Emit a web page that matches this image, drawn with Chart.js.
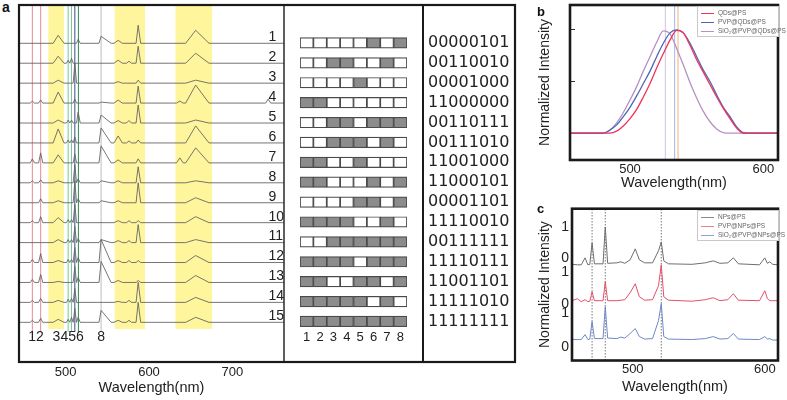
<!DOCTYPE html>
<html>
<head>
<meta charset="utf-8">
<script src="https://cdn.jsdelivr.net/npm/chart.js@4/dist/chart.umd.min.js"></script>
<style>
  body { margin: 0; background: #fff; width: 787px; height: 400px; position: relative; overflow: hidden; }
  canvas { position: absolute; }
  .tag { position: absolute; font: bold 14px Arial, "Liberation Sans", sans-serif; color: #111; line-height: 14px; }
  .legend { position: absolute; background: #fff; border: 1px solid #c8c8c8; font: 6.5px Arial, "Liberation Sans", sans-serif; color: #666; padding: 1px 3px; line-height: 9px; white-space: nowrap; }
  .legend .sw { display: inline-block; width: 13px; border-top: 1px solid; vertical-align: middle; margin-right: 4px; }
</style>
</head>
<body>
<div class="tag" style="left:2px;top:0px">a</div>
<canvas id="cA" width="520" height="400" style="left:0;top:0"></canvas>
<canvas id="cB" width="230" height="400" style="left:290px;top:0"></canvas>
<canvas id="cC" width="257" height="192" style="left:530px;top:0"></canvas>
<canvas id="cD" width="257" height="205" style="left:530px;top:195px"></canvas>
<div class="tag" style="left:537px;top:5px;font-size:13px">b</div>
<div class="tag" style="left:537px;top:202px;font-size:13px">c</div>
<div id="legB" class="legend" style="left:697px;top:6px;width:74px"></div>
<div id="legC" class="legend" style="left:697px;top:210px;width:74px"></div>
<script>
const family = 'Arial, "Liberation Sans", sans-serif';

// ---- panel a : 15 coded spectra ----
const traceNames = ['1','2','3','4','5','6','7','8','9','10','11','12','13','14','15'];
const codes = ['00000101','00110010','00001000','11000000','00110111','00111010','11001000','11000101',
               '00001101','11110010','00111111','11110111','11001101','11111010','11111111'];
const bitNames = ['1','2','3','4','5','6','7','8'];
const tickA = [500, 600, 700];

// peak positions (nm) and half widths of each peak
const peakNm    = [460, 470, 491, 503, 507, 511, 515, 542.5, 563, 576, 587, 637, 656, 743];
const peakLeft  = [2.5, 2.5, 6,   2,   2,   2,   2,   2.5,   5,   3,   2.5, 4,   12,  3];
const peakRight = [2.5, 2.5, 7,   2,   2,   2,   2.5, 12,    5,   3,   3,   4,   16,  3];
// peak heights per spectrum
const heightsA = [
  [0, 0, 8,  0, 0, 0,  4, 7,  3,   0,   18, 0, 13, 0],
  [0, 0, 7,  3, 5, 0,  0, 0,  3,   2,   17, 0, 10, 0],
  [0, 0, 3,  0, 0, 20, 0, 0,  1.5, 0,   3,  0, 3,  0],
  [2, 3, 11, 0, 0, 4,  0, 1,  3,   0,   17, 2, 18, 4],
  [0, 0, 3,  3, 3, 0,  11, 8, 2.5, 2.5, 18, 0, 3,  0],
  [0, 0, 14, 3, 3, 6,  0, 15, 7,   2,   3,  0, 17, 0],
  [4, 10, 8, 0, 0, 9,  0, 17, 3,   0,   4,  5, 15, 0],
  [2, 3, 2,  0, 0, 18, 4, 2,  2,   0,   16, 0, 2,  0],
  [0, 4, 2,  0, 0, 22, 4, 2,  2,   0,   20, 0, 5,  0],
  [2, 6, 5,  3, 3, 18, 0, 0,  2,   2,   2,  0, 6,  0],
  [0, 0, 3,  3, 3, 16, 4, 3,  2,   2,   18, 0, 3,  0],
  [3, 9, 2,  3, 3, 15, 5, 23, 2,   2,   2,  0, 7,  0],
  [3, 8, 1,  0, 0, 16, 5, 21, 2,   0,   2,  0, 7,  0],
  [2, 4, 2,  3, 4, 14, 0, 0,  1,   2,   20, 0, 5,  0],
  [2, 4, 3,  3, 5, 14, 5, 12, 2,   2,   20, 0, 5,  0]
];
const bandsA = [[479, 498], [558.5, 595.5], [631.5, 676]];
const markNm = [460, 470, 503, 507, 511, 515.3, 542.5];
const markColors = ['#e58a93', '#e58a93', '#7cc79a', '#7cc79a', '#3b4a8c', '#2f8a50', '#c4bbb4'];
const markLabels = ['12', '3456', '8'];
const markLabelNm = [464.5, 503, 542.5];

// ---- panel b : emission of QDs ----
const bNm    = [455, 480, 485, 490, 495, 500, 505, 510, 515, 520, 525, 530, 535, 540, 545, 550, 555, 560, 565, 570, 575, 580, 585, 590, 611];
const bQD    = [0, 0, 0, 0.02, 0.07, 0.14, 0.23, 0.35, 0.48, 0.63, 0.77, 0.9, 0.995, 0.97, 0.85, 0.71, 0.59, 0.47, 0.35, 0.24, 0.14, 0.05, 0, 0, 0];
const bPVP   = [0, 0, 0.03, 0.08, 0.16, 0.25, 0.36, 0.48, 0.6, 0.74, 0.87, 0.97, 1.0, 0.97, 0.87, 0.74, 0.61, 0.5, 0.37, 0.25, 0.16, 0.06, 0.005, 0, 0];
const bSiO2  = [0, 0, 0.03, 0.1, 0.2, 0.32, 0.45, 0.6, 0.74, 0.88, 0.99, 0.96, 0.82, 0.66, 0.49, 0.34, 0.21, 0.11, 0.04, 0.005, 0, 0, 0, 0, 0];
const bNames = ['QDs@PS', 'PVP@QDs@PS', 'SiO\u2082@PVP@QDs@PS'];
const bColors = ['#f0325c', '#4a68b4', '#b690c4'];
const bPeakNm = [536, 533.5, 526.5];
const bPeakColors = ['#f4b07a', '#a4b6e6', '#d2c2e0'];
const bTicks = [500, 600];
const bYTicks = [0, 0.5, 1];

// ---- panel c : nanoparticle spectra (offset) ----
const cNm   = [454, 458, 461, 463.9, 466, 467.5, 469.2, 471, 477.5, 479.2, 481, 488, 491, 494, 498, 501.9, 505, 509,
               515, 519.5, 521.6, 523.5, 527, 545, 555, 561, 566, 572, 576.2, 580, 596, 600, 602, 603.8, 606, 610];
const cNP   = [96.5, 96, 96, 103, 96, 96.5, 118, 97, 97, 134, 97.5, 98, 99, 97.5, 101, 112, 101, 98,
               98, 110, 119, 100, 97, 96.5, 98, 100, 97.5, 98, 103, 97, 96, 103, 97.5, 99, 96.5, 96];
const cPVP  = [60, 62, 59, 61, 59, 59.5, 69, 60, 60, 79, 60, 60, 60.5, 61, 68, 77, 64, 60.5,
               61, 75, 96, 64, 60.5, 59.5, 61, 63, 60, 61, 67, 60.5, 60, 70, 62, 60, 60, 60];
const cSiO2 = [21, 21, 21, 26, 21, 21.5, 39, 22, 22, 54, 22.5, 22, 23.5, 22.5, 27, 32, 24, 21.5,
               22, 40, 57, 24, 21.5, 21, 22, 24, 21.5, 22, 27, 21.5, 21, 24, 21.5, 22, 20.5, 20.5];
const cNames = ['NPs@PS', 'PVP@NPs@PS', 'SiO\u2082@PVP@NPs@PS'];
const cColors = ['#6e6e6e', '#e4506a', '#7088c8'];
const cLegendColors = ['#8a8a8a', '#e8808e', '#90a0d0'];
const cMarkNm = [469.2, 479.2, 521.6];
const cYTicks = [134, 103, 89, 57, 48, 13];
const cYLabels = ['1', '0', '1', '0', '1', '0'];

const baseA = traceNames.map((n, i) => 318.7 - 19.93 * i);

function tracePoints(h, base) {
  const pts = [{x: 444, y: base}];
  peakNm.forEach((c, j) => {
    if (!h[j]) return;
    pts.push({x: c - peakLeft[j], y: base}, {x: c, y: base + h[j]}, {x: c + peakRight[j], y: base});
  });
  pts.push({x: 762, y: base});
  return pts;
}

const noUi = { legend: { display: false }, tooltip: { enabled: false } };

const frameA = {
  id: 'frameA',
  afterDraw(chart) {
    const { ctx, chartArea: a, scales: { x, y } } = chart;
    ctx.save();
    ctx.strokeStyle = '#1a1a1a';
    ctx.lineWidth = 2.2;
    ctx.strokeRect(a.left, a.top, 496, a.bottom - a.top);
    ctx.lineWidth = 1.4;
    ctx.beginPath(); ctx.moveTo(a.right, a.top); ctx.lineTo(a.right, a.bottom); ctx.stroke();
    ctx.lineWidth = 2;
    ctx.beginPath(); ctx.moveTo(a.left + 404, a.top); ctx.lineTo(a.left + 404, a.bottom); ctx.stroke();
    ctx.fillStyle = '#222';
    ctx.font = '14px ' + family;
    ctx.textAlign = 'center';
    ctx.textBaseline = 'middle';
    markLabels.forEach((t, i) => ctx.fillText(t, x.getPixelForValue(markLabelNm[i]), y.getPixelForValue(25)));
    ctx.restore();
  }
};

const boxFrame = {
  id: 'boxFrame',
  afterDraw(chart) {
    const { ctx, chartArea: a } = chart;
    ctx.save();
    ctx.strokeStyle = '#1a1a1a';
    ctx.lineWidth = 2.6;
    ctx.strokeRect(a.left, a.top, a.right - a.left, a.bottom - a.top);
    ctx.restore();
  }
};

// panel a spectra
new Chart(document.getElementById('cA'), {
  type: 'line',
  data: {
    datasets: [
      ...heightsA.map((h, i) => ({ data: tracePoints(h, baseA[i]), borderColor: '#666', borderWidth: 0.9 })),
      ...markNm.map((v, i) => ({ data: [{x: v, y: 30}, {x: v, y: 357}], borderColor: markColors[i], borderWidth: 1 })),
      ...bandsA.map(b => ({ data: [{x: b[0], y: 357}, {x: b[1], y: 357}], borderWidth: 0, fill: {value: 33}, backgroundColor: '#fff59c' }))
    ]
  },
  options: {
    responsive: false, animation: false,
    layout: { padding: { left: 19, right: 236, top: 5, bottom: 3 } },
    elements: { point: { radius: 0 }, line: { tension: 0 } },
    plugins: noUi,
    scales: {
      x: {
        type: 'linear', min: 444, max: 762,
        grid: { display: false, drawTicks: false }, border: { display: false },
        afterBuildTicks: s => { s.ticks = tickA.map(v => ({value: v})); },
        ticks: { font: { size: 13, family }, color: '#222', padding: 3, maxRotation: 0 },
        title: { display: true, text: 'Wavelength(nm)', font: { size: 14.5, family }, color: '#222', padding: { top: -4, bottom: 0 } }
      },
      y: { min: 0, max: 357, display: false },
      yNum: {
        type: 'linear', position: 'right', min: 0, max: 357,
        grid: { display: false, drawTicks: false }, border: { display: false },
        afterBuildTicks: s => { s.ticks = baseA.map(b => ({value: b + 6})); },
        afterFit: s => { s.width = 0; s.paddingTop = 0; s.paddingBottom = 0; },
        ticks: { mirror: true, crossAlign: 'far', padding: 0, autoSkip: false, font: { size: 14, family }, color: '#222',
                 callback: (v, i) => traceNames[i] }
      }
    }
  },
  plugins: [frameA]
});

// panel a code cells and binary strings
new Chart(document.getElementById('cB'), {
  type: 'bar',
  data: {
    labels: traceNames,
    datasets: bitNames.map((b, j) => ({
      data: codes.map(() => 1),
      backgroundColor: codes.map(c => c[j] === '1' ? '#8c8c8c' : '#ffffff'),
      borderColor: '#4a4a4a', borderWidth: 1.2, borderSkipped: false, barThickness: 10.5
    }))
  },
  options: {
    indexAxis: 'y', responsive: false, animation: false,
    layout: { padding: { left: 10, top: 33, bottom: 57, right: 0 } },
    plugins: noUi,
    scales: {
      x: {
        stacked: true, min: 0, max: 8,
        grid: { display: false, drawTicks: false }, border: { display: false },
        afterBuildTicks: s => { s.ticks = bitNames.map((b, j) => ({value: j + 0.5})); },
        ticks: { callback: (v, i) => bitNames[i], padding: -2, autoSkip: false, maxRotation: 0, font: { size: 13, family }, color: '#222' }
      },
      y: { stacked: true, display: false },
      y2: {
        type: 'category', labels: codes, position: 'right',
        grid: { display: false, drawTicks: false }, border: { display: false },
        afterFit: s => { s.width = 113; },
        ticks: { padding: 21, autoSkip: false, font: { size: 16, family: '"DejaVu Sans"' }, color: '#222' }
      }
    }
  }
});

// panel b
new Chart(document.getElementById('cC'), {
  type: 'line',
  data: {
    datasets: [
      ...[bQD, bPVP, bSiO2].map((s, i) => ({
        data: bNm.map((v, k) => ({x: v, y: s[k]})), borderColor: bColors[i], borderWidth: 1.3,
        cubicInterpolationMode: 'monotone'
      })),
      ...bPeakNm.map((v, i) => ({ data: [{x: v, y: -0.26}, {x: v, y: 1.24}], borderColor: bPeakColors[i], borderWidth: 1 }))
    ]
  },
  options: {
    responsive: false, animation: false,
    layout: { padding: { left: 0, right: 9, top: 5, bottom: 0 } },
    elements: { point: { radius: 0 } },
    plugins: noUi,
    scales: {
      x: {
        type: 'linear', min: 455, max: 611,
        grid: { display: false, drawTicks: false }, border: { display: false },
        afterBuildTicks: s => { s.ticks = bTicks.map(v => ({value: v})); },
        ticks: { font: { size: 13, family }, color: '#222', padding: 2, maxRotation: 0 },
        title: { display: true, text: 'Wavelength(nm)', font: { size: 14.5, family }, color: '#222', padding: { top: -5, bottom: 0 } }
      },
      y: {
        min: -0.26, max: 1.24,
        grid: { drawOnChartArea: false, drawTicks: true, tickLength: -5, color: '#333' }, border: { display: false },
        afterBuildTicks: s => { s.ticks = bYTicks.map(v => ({value: v})); },
        afterFit: s => { s.width = 40; },
        ticks: { display: false },
        title: { display: true, text: 'Normalized Intensity', font: { size: 14, family }, color: '#222', padding: { top: 6.6, bottom: 0 } }
      }
    }
  },
  plugins: [boxFrame]
});

// panel c
new Chart(document.getElementById('cD'), {
  type: 'line',
  data: {
    datasets: [
      ...[cNP, cPVP, cSiO2].map((s, i) => ({
        data: cNm.map((v, k) => ({x: v, y: s[k]})), borderColor: cColors[i], borderWidth: 1
      })),
      ...cMarkNm.map(v => ({ data: [{x: v, y: 0}, {x: v, y: 152.3}], borderColor: '#777', borderWidth: 1, borderDash: [1.5, 1.5] }))
    ]
  },
  options: {
    responsive: false, animation: false,
    layout: { padding: { left: 0, right: 9, top: 13.7, bottom: 4.5 } },
    elements: { point: { radius: 0 }, line: { tension: 0 } },
    plugins: noUi,
    scales: {
      x: {
        type: 'linear', min: 454, max: 610,
        grid: { display: false, drawTicks: false }, border: { display: false },
        afterBuildTicks: s => { s.ticks = bTicks.map(v => ({value: v})); },
        ticks: { font: { size: 13, family }, color: '#222', padding: 1, maxRotation: 0 },
        title: { display: true, text: 'Wavelength(nm)', font: { size: 14.5, family }, color: '#222', padding: { top: 0, bottom: 0 } }
      },
      y: {
        min: 0, max: 152.3,
        grid: { display: false, drawTicks: false }, border: { display: false },
        afterBuildTicks: s => { s.ticks = cYTicks.map(v => ({value: v})); },
        afterFit: s => { s.width = 42; },
        ticks: { autoSkip: false, padding: 3, font: { size: 14, family }, color: '#222', callback: (v, i) => cYLabels[i] },
        title: { display: true, text: 'Normalized Intensity', font: { size: 14, family }, color: '#222', padding: { top: 6.6, bottom: 0 } }
      }
    }
  },
  plugins: [boxFrame]
});

// small legends inside panels b and c
function fillLegend(id, names, colors) {
  document.getElementById(id).innerHTML = names.map((n, i) =>
    '<div><span class="sw" style="border-color:' + colors[i] + '"></span>' + n + '</div>').join('');
}
fillLegend('legB', bNames, bColors);
fillLegend('legC', cNames, cLegendColors);
</script>
</body>
</html>
